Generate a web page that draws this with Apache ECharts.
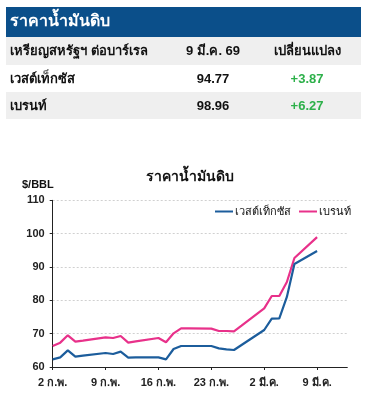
<!DOCTYPE html>
<html><head><meta charset="utf-8">
<script src="https://cdn.jsdelivr.net/npm/echarts@6/dist/echarts.min.js"></script>
<style>html,body{margin:0;padding:0;background:#fff}#c{width:370px;height:405px}</style>
</head><body><div id="c"></div>
<script>
// ---- data ----
const tableTitle = 'ราคาน้ำมันดิบ';
const tableHeader = ['เหรียญสหรัฐฯ ต่อบาร์เรล', '9 มี.ค. 69', 'เปลี่ยนแปลง'];
const tableNames = ['เวสต์เท็กซัส', 'เบรนท์'];
const tablePrices = ['94.77', '98.96'];
const tableChanges = ['+3.87', '+6.27'];

const chartTitle = 'ราคาน้ำมันดิบ';
const unitLabel = '$/BBL';
const seriesNames = ['เวสต์เท็กซัส', 'เบรนท์'];
const tickLabels = ['2 ก.พ.', '9 ก.พ.', '16 ก.พ.', '23 ก.พ.', '2 มี.ค.', '9 มี.ค.'];
const axisStart = '2026-02-02';
const axisDays = 40; // 2 Feb .. 13 Mar
const tradeDates = ['2026-02-02','2026-02-03','2026-02-04','2026-02-05','2026-02-06',
  '2026-02-09','2026-02-10','2026-02-11','2026-02-12','2026-02-13',
  '2026-02-16','2026-02-17','2026-02-18','2026-02-19','2026-02-20',
  '2026-02-23','2026-02-24','2026-02-25','2026-02-26','2026-02-27',
  '2026-03-02','2026-03-03','2026-03-04','2026-03-05','2026-03-06','2026-03-09'];
const wti   = [62.3,62.9,65.0,63.1,63.4, 64.2,63.9,64.6,62.8,62.9, 62.9,62.3,65.4,66.3,66.3, 66.3,65.6,65.3,65.1,66.6, 71.1,74.5,74.6,81.0,90.90, 94.77];
const brent = [66.3,67.3,69.5,67.6,67.9, 68.9,68.7,69.3,67.3,67.7, 68.7,67.4,70.1,71.6,71.6, 71.5,70.8,70.8,70.7,72.4, 77.6,81.3,81.3,85.5,92.69, 98.96];
const yMin = 60, yMax = 110, yStep = 10;

// ---- build ----
const DAY = 86400000;
const t0 = Date.parse(axisStart + 'T00:00:00Z');
const categories = [];
for (let i = 0; i < axisDays; i++) categories.push(new Date(t0 + i * DAY).toISOString().slice(0, 10));
const idx = d => Math.round((Date.parse(d + 'T00:00:00Z') - t0) / DAY);
const pairs = arr => tradeDates.map((d, i) => [idx(d), arr[i]]);

const FONT = 'Liberation Sans, Arial, sans-serif';
const BLUE = '#1c5d9c', PINK = '#e8318a';

const g = [];
g.push({type:'rect', shape:{x:6,y:7,width:355,height:30}, style:{fill:'#0b4f8a'}});
g.push({type:'text', left:10, top:14, style:{text:tableTitle, fill:'#fff', font:'bold 16px ' + FONT}});
g.push({type:'rect', shape:{x:6,y:37,width:355,height:28}, style:{fill:'#efefef'}});
g.push({type:'rect', shape:{x:6,y:92,width:355,height:27}, style:{fill:'#efefef'}});
const rowY = [51, 79, 106];
g.push({type:'text', x:10, y:rowY[0], style:{text:tableHeader[0], fill:'#111', font:'bold 13px ' + FONT, verticalAlign:'middle'}});
g.push({type:'text', x:213, y:rowY[0], style:{text:tableHeader[1], fill:'#111', font:'bold 13px ' + FONT, align:'center', verticalAlign:'middle'}});
g.push({type:'text', x:307, y:rowY[0], style:{text:tableHeader[2], fill:'#111', font:'bold 13px ' + FONT, align:'center', verticalAlign:'middle'}});
for (let r = 0; r < tableNames.length; r++) {
  g.push({type:'text', x:10, y:rowY[r+1], style:{text:tableNames[r], fill:'#111', font:'bold 13px ' + FONT, verticalAlign:'middle'}});
  g.push({type:'text', x:213, y:rowY[r+1], style:{text:tablePrices[r], fill:'#111', font:'bold 13px ' + FONT, align:'center', verticalAlign:'middle'}});
  g.push({type:'text', x:307, y:rowY[r+1], style:{text:tableChanges[r], fill:'#2db04a', font:'bold 13px ' + FONT, align:'center', verticalAlign:'middle'}});
}
g.push({type:'text', x:190, y:177, style:{text:chartTitle, fill:'#111', font:'bold 14px ' + FONT, align:'center', verticalAlign:'middle'}});
g.push({type:'text', x:22, y:185, style:{text:unitLabel, fill:'#111', font:'bold 11px ' + FONT, verticalAlign:'middle'}});

const chart = echarts.init(document.getElementById('c'), null, {renderer:'canvas'});
chart.setOption({
  animation:false,
  backgroundColor:'#fff',
  graphic:g,
  legend:{
    right:14, top:201, itemWidth:18, itemHeight:2, itemGap:8,
    icon:'rect',
    textStyle:{fontFamily:FONT, fontSize:11, color:'#111', padding:[0,0,0,-3]},
    data:seriesNames
  },
  grid:{left:52.7, right:22.7, top:200.3, bottom:38},
  xAxis:{
    type:'category', data:categories, boundaryGap:false,
    axisLine:{lineStyle:{color:'#222', width:1}},
    axisTick:{interval:6, length:3, lineStyle:{color:'#222'}},
    axisLabel:{interval:6, margin:10, fontFamily:FONT, fontWeight:'bold', fontSize:11, color:'#222',
      formatter:(v, i) => tickLabels[i / 7] || ''},
    splitLine:{show:false}
  },
  yAxis:{
    type:'value', min:yMin, max:yMax, interval:yStep,
    axisLine:{show:true, lineStyle:{color:'#222', width:1}},
    axisTick:{show:true, length:3, lineStyle:{color:'#222'}},
    axisLabel:{margin:8, fontFamily:FONT, fontWeight:'bold', fontSize:11, color:'#222'},
    splitLine:{show:true, lineStyle:{color:'#d0d0d0', type:[2,2], width:1}}
  },
  series:[
    {name:seriesNames[0], type:'line', data:pairs(wti), showSymbol:false, symbol:'none', lineStyle:{color:BLUE, width:2.2}, itemStyle:{color:BLUE}, z:3},
    {name:seriesNames[1], type:'line', data:pairs(brent), showSymbol:false, symbol:'none', lineStyle:{color:PINK, width:2.2}, itemStyle:{color:PINK}, z:2}
  ]
});
</script></body></html>
